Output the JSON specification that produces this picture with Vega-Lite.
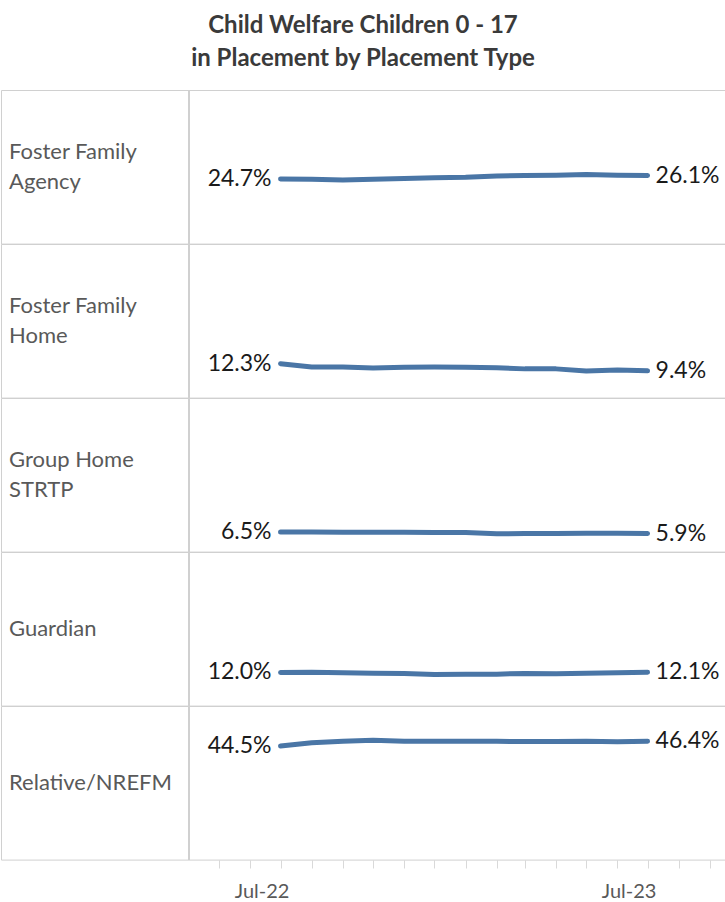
{
  "$schema": "https://vega.github.io/schema/vega-lite/v6.json",
  "padding": {"left": 0, "right": 1, "top": 14, "bottom": 0},
  "background": "white",
  "bounds": "flush",
  "title": {
    "text": ["Child Welfare Children 0 - 17", "in Placement by Placement Type"],
    "font": "Lato", "fontSize": 24, "fontWeight": "bold", "color": "#3a3a3a",
    "lineHeight": 33, "anchor": "middle", "offset": 18
  },
  "config": {"view": {"stroke": "#d0d0d0", "strokeWidth": 1}},
  "data": {"values": [
    {"type": "Foster Family\nAgency", "date": "2022-07-01", "value": 0.247},
    {"type": "Foster Family\nAgency", "date": "2022-08-01", "value": 0.246},
    {"type": "Foster Family\nAgency", "date": "2022-09-01", "value": 0.243},
    {"type": "Foster Family\nAgency", "date": "2022-10-01", "value": 0.246},
    {"type": "Foster Family\nAgency", "date": "2022-11-01", "value": 0.249},
    {"type": "Foster Family\nAgency", "date": "2022-12-01", "value": 0.252},
    {"type": "Foster Family\nAgency", "date": "2023-01-01", "value": 0.254},
    {"type": "Foster Family\nAgency", "date": "2023-02-01", "value": 0.259},
    {"type": "Foster Family\nAgency", "date": "2023-03-01", "value": 0.261},
    {"type": "Foster Family\nAgency", "date": "2023-04-01", "value": 0.262},
    {"type": "Foster Family\nAgency", "date": "2023-05-01", "value": 0.265},
    {"type": "Foster Family\nAgency", "date": "2023-06-01", "value": 0.262},
    {"type": "Foster Family\nAgency", "date": "2023-07-01", "value": 0.261},
    {"type": "Foster Family\nHome", "date": "2022-07-01", "value": 0.123},
    {"type": "Foster Family\nHome", "date": "2022-08-01", "value": 0.110},
    {"type": "Foster Family\nHome", "date": "2022-09-01", "value": 0.110},
    {"type": "Foster Family\nHome", "date": "2022-10-01", "value": 0.106},
    {"type": "Foster Family\nHome", "date": "2022-11-01", "value": 0.109},
    {"type": "Foster Family\nHome", "date": "2022-12-01", "value": 0.110},
    {"type": "Foster Family\nHome", "date": "2023-01-01", "value": 0.109},
    {"type": "Foster Family\nHome", "date": "2023-02-01", "value": 0.107},
    {"type": "Foster Family\nHome", "date": "2023-03-01", "value": 0.102},
    {"type": "Foster Family\nHome", "date": "2023-04-01", "value": 0.102},
    {"type": "Foster Family\nHome", "date": "2023-05-01", "value": 0.093},
    {"type": "Foster Family\nHome", "date": "2023-06-01", "value": 0.097},
    {"type": "Foster Family\nHome", "date": "2023-07-01", "value": 0.094},
    {"type": "Group Home\nSTRTP", "date": "2022-07-01", "value": 0.065},
    {"type": "Group Home\nSTRTP", "date": "2022-08-01", "value": 0.065},
    {"type": "Group Home\nSTRTP", "date": "2022-09-01", "value": 0.064},
    {"type": "Group Home\nSTRTP", "date": "2022-10-01", "value": 0.064},
    {"type": "Group Home\nSTRTP", "date": "2022-11-01", "value": 0.064},
    {"type": "Group Home\nSTRTP", "date": "2022-12-01", "value": 0.063},
    {"type": "Group Home\nSTRTP", "date": "2023-01-01", "value": 0.063},
    {"type": "Group Home\nSTRTP", "date": "2023-02-01", "value": 0.058},
    {"type": "Group Home\nSTRTP", "date": "2023-03-01", "value": 0.059},
    {"type": "Group Home\nSTRTP", "date": "2023-04-01", "value": 0.059},
    {"type": "Group Home\nSTRTP", "date": "2023-05-01", "value": 0.060},
    {"type": "Group Home\nSTRTP", "date": "2023-06-01", "value": 0.060},
    {"type": "Group Home\nSTRTP", "date": "2023-07-01", "value": 0.059},
    {"type": "Guardian", "date": "2022-07-01", "value": 0.120},
    {"type": "Guardian", "date": "2022-08-01", "value": 0.121},
    {"type": "Guardian", "date": "2022-09-01", "value": 0.119},
    {"type": "Guardian", "date": "2022-10-01", "value": 0.117},
    {"type": "Guardian", "date": "2022-11-01", "value": 0.116},
    {"type": "Guardian", "date": "2022-12-01", "value": 0.112},
    {"type": "Guardian", "date": "2023-01-01", "value": 0.113},
    {"type": "Guardian", "date": "2023-02-01", "value": 0.113},
    {"type": "Guardian", "date": "2023-03-01", "value": 0.116},
    {"type": "Guardian", "date": "2023-04-01", "value": 0.115},
    {"type": "Guardian", "date": "2023-05-01", "value": 0.117},
    {"type": "Guardian", "date": "2023-06-01", "value": 0.119},
    {"type": "Guardian", "date": "2023-07-01", "value": 0.121},
    {"type": "Relative/NREFM", "date": "2022-07-01", "value": 0.445},
    {"type": "Relative/NREFM", "date": "2022-08-01", "value": 0.458},
    {"type": "Relative/NREFM", "date": "2022-09-01", "value": 0.464},
    {"type": "Relative/NREFM", "date": "2022-10-01", "value": 0.468},
    {"type": "Relative/NREFM", "date": "2022-11-01", "value": 0.464},
    {"type": "Relative/NREFM", "date": "2022-12-01", "value": 0.464},
    {"type": "Relative/NREFM", "date": "2023-01-01", "value": 0.464},
    {"type": "Relative/NREFM", "date": "2023-02-01", "value": 0.464},
    {"type": "Relative/NREFM", "date": "2023-03-01", "value": 0.463},
    {"type": "Relative/NREFM", "date": "2023-04-01", "value": 0.463},
    {"type": "Relative/NREFM", "date": "2023-05-01", "value": 0.464},
    {"type": "Relative/NREFM", "date": "2023-06-01", "value": 0.462},
    {"type": "Relative/NREFM", "date": "2023-07-01", "value": 0.464}
  ]},
  "facet": {
    "row": {
      "field": "type", "type": "nominal", "title": null,
      "sort": ["Foster Family\nAgency", "Foster Family\nHome", "Group Home\nSTRTP", "Guardian", "Relative/NREFM"],
      "header": {"labels": false, "title": null}
    }
  },
  "spacing": 0,
  "spec": {
    "width": 724,
    "height": 153.6,
    "layer": [
      {
        "transform": [{"filter": "utcyear(datum.date) == 2022 && utcmonth(datum.date) == 6 && indexof(datum.type, '\\n') >= 0"}],
        "mark": {"type": "text", "align": "left", "baseline": "middle", "dx": 8, "dy": -15, "font": "Lato", "fontSize": 22, "color": "#595959", "lineBreak": "\n", "lineHeight": 30},
        "encoding": {
          "x": {"datum": {"year": 2021, "month": 9, "date": 26, "utc": true}, "type": "temporal"},
          "text": {"field": "type", "type": "nominal"}
        }
      },
      {
        "transform": [{"filter": "utcyear(datum.date) == 2022 && utcmonth(datum.date) == 6 && indexof(datum.type, '\\n') < 0"}],
        "mark": {"type": "text", "align": "left", "baseline": "middle", "dx": 8, "font": "Lato", "fontSize": 22, "color": "#595959"},
        "encoding": {
          "x": {"datum": {"year": 2021, "month": 9, "date": 26, "utc": true}, "type": "temporal"},
          "text": {"field": "type", "type": "nominal"}
        }
      },
      {
        "mark": {"type": "rule", "color": "#d0d0d0", "strokeWidth": 1},
        "encoding": {
          "x": {"datum": {"year": 2022, "month": 4, "date": 1, "utc": true}, "type": "temporal"}
        }
      },
      {
        "mark": {"type": "line", "color": "#4a76a6", "strokeWidth": 5, "strokeCap": "round", "strokeJoin": "round"},
        "encoding": {
          "x": {
            "field": "date", "type": "temporal",
            "scale": {"type": "utc", "domain": [{"year": 2021, "month": 9, "date": 26, "utc": true}, {"year": 2023, "month": 9, "date": 16, "utc": true}]},
            "axis": {
              "title": null, "domain": false, "grid": false,
              "values": [
                {"year": 2022, "month": 5, "date": 1, "utc": true},
                {"year": 2022, "month": 6, "date": 1, "utc": true},
                {"year": 2022, "month": 7, "date": 1, "utc": true},
                {"year": 2022, "month": 8, "date": 1, "utc": true},
                {"year": 2022, "month": 9, "date": 1, "utc": true},
                {"year": 2022, "month": 10, "date": 1, "utc": true},
                {"year": 2022, "month": 11, "date": 1, "utc": true},
                {"year": 2022, "month": 12, "date": 1, "utc": true},
                {"year": 2023, "month": 1, "date": 1, "utc": true},
                {"year": 2023, "month": 2, "date": 1, "utc": true},
                {"year": 2023, "month": 3, "date": 1, "utc": true},
                {"year": 2023, "month": 4, "date": 1, "utc": true},
                {"year": 2023, "month": 5, "date": 1, "utc": true},
                {"year": 2023, "month": 6, "date": 1, "utc": true},
                {"year": 2023, "month": 7, "date": 1, "utc": true},
                {"year": 2023, "month": 8, "date": 1, "utc": true},
                {"year": 2023, "month": 9, "date": 1, "utc": true}
              ],
              "labelExpr": "utcmonth(datum.value) == 6 ? utcFormat(datum.value, '%b-%y') : ''",
              "labelOffset": -19, "labelFlush": false, "labelOverlap": false,
              "labelFont": "Lato", "labelFontSize": 20, "labelColor": "#595959", "labelPadding": 13,
              "ticks": true, "tickColor": "#d9d9d9", "tickSize": 8, "tickWidth": 1
            }
          },
          "y": {"field": "value", "type": "quantitative", "scale": {"domain": [-0.0141, 0.6067], "nice": false, "zero": false}, "axis": null}
        }
      },
      {
        "transform": [{"filter": "utcyear(datum.date) == 2022 && utcmonth(datum.date) == 6"}],
        "mark": {"type": "text", "align": "right", "baseline": "middle", "dx": -9, "font": "Lato", "fontSize": 23, "color": "#1a1a1a"},
        "encoding": {
          "x": {"field": "date", "type": "temporal"},
          "y": {"field": "value", "type": "quantitative"},
          "text": {"field": "value", "type": "quantitative", "format": ".1%"}
        }
      },
      {
        "transform": [{"filter": "utcyear(datum.date) == 2023 && utcmonth(datum.date) == 6"}],
        "mark": {"type": "text", "align": "left", "baseline": "middle", "dx": 8, "font": "Lato", "fontSize": 23, "color": "#1a1a1a"},
        "encoding": {
          "x": {"field": "date", "type": "temporal"},
          "y": {"field": "value", "type": "quantitative"},
          "text": {"field": "value", "type": "quantitative", "format": ".1%"}
        }
      }
    ]
  }
}
